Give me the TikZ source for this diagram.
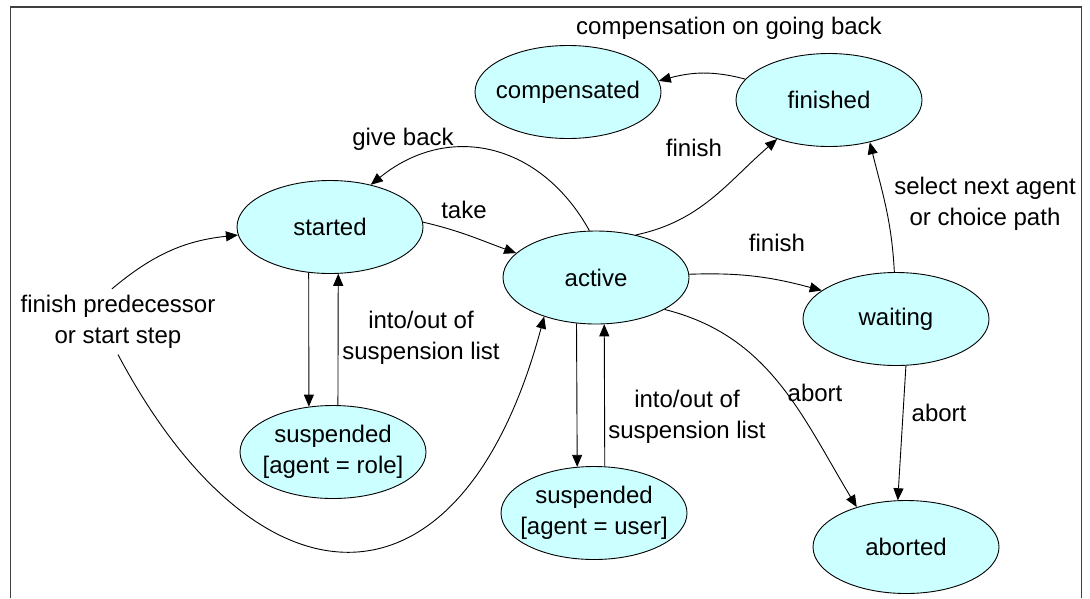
\documentclass[tikz,border=0pt]{standalone}
\usepackage{fontspec}
\setmainfont{Liberation Sans}
\usetikzlibrary{shapes.geometric,arrows.meta}
\definecolor{statefill}{HTML}{CCFFFF}
\begin{document}
\begin{tikzpicture}[x=1pt,y=1pt,
  every node/.style={font=\fontsize{24}{31}\selectfont},
  state/.style={ellipse, draw=black, line width=0.9pt, fill=statefill,
    minimum width=186pt, minimum height=93pt, inner sep=0pt, inner xsep=-10pt, align=center},
  lbl/.style={inner sep=0pt, anchor=base},
  mlbl/.style={inner sep=0pt, align=center},
  arr/.style={-{Triangle[length=12pt,width=10pt]}, line width=0.9pt, black}]
\useasboundingbox (0,0) rectangle (1090,-598);
\draw[line width=1.2pt, black!75] (10.5,-598) -- (10.5,-7) -- (1081.5,-7) -- (1081.5,-598);

% states
\node[state] (comp) at (568,-92) {compensated};
\node[state] (fin) at (829,-100) {finished};
\node[state] (started) at (330,-227) {started};
\node[state] (active) at (596,-277.5) {active};
\node[state] (waiting) at (896,-319) {waiting};
\node[state] (susr) at (333,-452) {suspended\\{}[agent = role]};
\node[state] (susu) at (594,-513) {suspended\\{}[agent = user]};
\node[state] (aborted) at (906,-547) {aborted};

% labels
\node[lbl] (lcomp) at (729,-34) {compensation on going back};
\node[lbl] (lgive) at (403,-145) {give back};
\node[lbl] (ltake) at (464,-218) {take};
\node[lbl] (lfin1) at (694,-156) {finish};
\node[lbl] (lfin2) at (777,-251.7) {finish};
\node[lbl] (labort1) at (815,-401.7) {abort};
\node[lbl] (labort2) at (939,-421) {abort};
\node[mlbl] (lsel) at (985,-203.9) {select next agent\\or choice path};
\node[mlbl] (lsus1) at (421,-337.9) {into/out of\\suspension list};
\node[mlbl] (lsus2) at (687,-416.4) {into/out of\\suspension list};
\node[mlbl, inner xsep=3pt, inner ysep=6pt] (fp) at (118,-321.7) {finish predecessor\\or start step};

% connectors
\draw[arr] (fin.166) to[out=165,in=15] (comp.7);
\draw[arr] (active.47) to[out=12,in=221] (fin.217);
\draw[arr] (active.98) to[out=119,in=39,looseness=1.15] (started.46);
\draw[arr] (started.3) to[out=-13,in=160] (active.163);
\draw[arr] (active.2) to[out=2,in=165] (waiting.159);
\draw[arr] (waiting.92) to[out=93,in=-76] (fin.-46);
\draw[arr] (waiting.-78) -- (aborted.100);
\draw[arr] (active.-25) to[out=-14,in=121] (aborted.141);
\draw[arr] (started.-115) -- (susr.118);
\draw[arr] (susr.84) -- (started.-80);
\draw[arr] (active.-113) -- (susu.110.6);
\draw[arr] (susu.77.7) -- (active.-80);
\draw[arr] ([xshift=-6pt]fp.north) to[out=40,in=186] (started.185);
\draw[arr] (fp.south) .. controls +(-62:300) and +(-105:320) .. (active.217);
\end{tikzpicture}
\end{document}
